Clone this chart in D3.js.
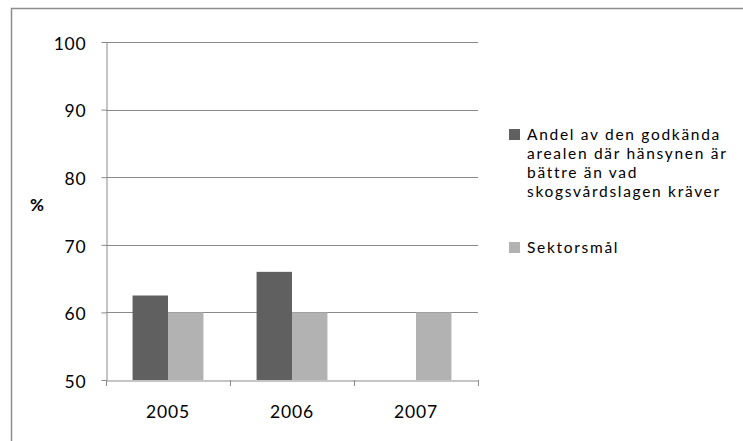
<!DOCTYPE html>
<html>
<head>
<meta charset="utf-8">
<script src="https://cdn.jsdelivr.net/npm/d3@7/dist/d3.min.js"></script>
<style>
  html, body { margin: 0; padding: 0; background: #fff; }
  svg { display: block; font-family: Lato, "Open Sans", sans-serif; }
</style>
</head>
<body>
<svg id="chart" width="743" height="441"></svg>
<script>
// Andel godkänd areal med bättre hänsyn än lagkrav, jämfört med sektorsmål
const years = ["2005", "2006", "2007"];
const andelValues = [62.5, 66.0, null];
const sektorsmalValues = [60, 60, 60];
const yTicks = [50, 60, 70, 80, 90, 100];
const seriesNames = [
  "Andel av den godkända arealen där hänsynen är bättre än vad skogsvårdslagen kräver",
  "Sektorsmål"
];
const legendLines = [
  ["Andel av den godkända", "arealen där hänsynen är", "bättre än vad", "skogsvårdslagen kräver"],
  ["Sektorsmål"]
];
const colors = ["#606060", "#b2b2b2"];

const svg = d3.select("#chart");

// outer frame
svg.append("rect")
  .attr("x", 11.5).attr("y", 8.5)
  .attr("width", 745).attr("height", 450)
  .attr("fill", "none").attr("stroke", "#8c8c8c").attr("stroke-width", 1.5);

const plot = { left: 106, right: 478, top: 42, bottom: 380 };

const x = d3.scaleBand().domain(years).range([plot.left, plot.right]).paddingInner(0).paddingOuter(0);
const y = d3.scaleLinear().domain([50, 100]).range([plot.bottom, plot.top]);

// gridlines
svg.append("g").selectAll("line").data(yTicks.filter(t => t > 50)).join("line")
  .attr("x1", plot.left).attr("x2", plot.right)
  .attr("y1", d => Math.round(y(d)) + 0.5).attr("y2", d => Math.round(y(d)) + 0.5)
  .attr("stroke", "#8a8a8a").attr("stroke-width", 1);

// bars: two series per year, Excel-style gap
const barW = x.bandwidth() / 3.5;
const gap = (x.bandwidth() - 2 * barW) / 2;
const series = [andelValues, sektorsmalValues];
series.forEach((vals, si) => {
  svg.append("g").selectAll("rect")
    .data(years.map((yr, i) => ({ yr, v: vals[i] })).filter(d => d.v != null))
    .join("rect")
    .attr("x", d => x(d.yr) + gap + si * barW)
    .attr("width", barW)
    .attr("y", d => y(d.v))
    .attr("height", d => y(50) - y(d.v))
    .attr("fill", colors[si]);
});

// y axis
const yAxis = svg.append("g")
  .attr("transform", `translate(${plot.left + 0.5},0)`)
  .call(d3.axisLeft(y).tickValues(yTicks).tickSize(5).tickPadding(15).tickSizeOuter(0));
yAxis.select(".domain").attr("stroke", "#8a8a8a");
yAxis.selectAll(".tick line").attr("stroke", "#8a8a8a");
yAxis.selectAll(".tick text").attr("font-size", 17.5).attr("fill", "#000")
  .attr("font-family", "Lato, sans-serif").attr("letter-spacing", 0.8).attr("dy", "0.42em");

// x axis
const xAxis = svg.append("g")
  .attr("transform", `translate(0,${plot.bottom + 0.5})`)
  .call(d3.axisBottom(x).tickSize(0).tickPadding(25));
xAxis.select(".domain").attr("stroke", "#8a8a8a");
xAxis.selectAll(".tick text").attr("font-size", 17.5).attr("fill", "#000")
  .attr("font-family", "Lato, sans-serif").attr("letter-spacing", 0.8);
// category separators
svg.append("g").selectAll("line")
  .data(years.map(d => x(d)).concat([plot.right]))
  .join("line")
  .attr("x1", d => Math.round(d) + 0.5).attr("x2", d => Math.round(d) + 0.5)
  .attr("y1", plot.bottom).attr("y2", plot.bottom + 6)
  .attr("stroke", "#8a8a8a");

// y axis title
svg.append("text")
  .attr("x", 37).attr("y", 211)
  .attr("text-anchor", "middle")
  .attr("font-size", 17).attr("font-weight", "bold")
  .text("%");

// legend
const legendY = [129, 242];
legendLines.forEach((lines, i) => {
  const g = svg.append("g").attr("transform", `translate(509,${legendY[i]})`);
  g.append("rect").attr("width", 11).attr("height", 11).attr("fill", colors[i])
    .append("title").text(seriesNames[i]);
  lines.forEach((ln, j) => {
    g.append("text")
      .attr("x", 18).attr("y", 11 + j * 19)
      .attr("font-size", 15.5).attr("fill", "#000")
      .attr("letter-spacing", 1.7)
      .text(ln);
  });
});
</script>
</body>
</html>
